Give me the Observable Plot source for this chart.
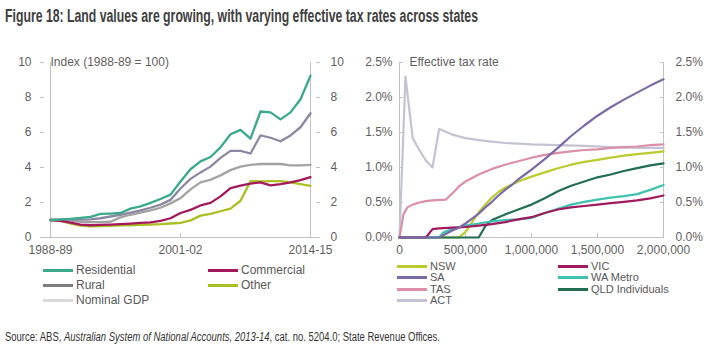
<!DOCTYPE html>
<html><head><meta charset="utf-8">
<script src="https://cdn.jsdelivr.net/npm/d3@7"></script>
<script src="https://cdn.jsdelivr.net/npm/@observablehq/plot@0.6"></script>
<style>
body{margin:0;background:#fff;width:712px;height:354px;position:relative;overflow:hidden;font-family:"Liberation Sans",Arial,sans-serif;}
#title{position:absolute;left:5px;top:7px;font-family:"Liberation Sans Narrow","Arial Narrow","Liberation Sans",sans-serif;font-weight:bold;font-size:18px;line-height:18px;color:#404040;white-space:nowrap;transform-origin:0 0;display:inline-block;}
#source{position:absolute;left:5px;top:331px;font-family:"Liberation Sans Narrow","Arial Narrow","Liberation Sans",sans-serif;font-size:12px;line-height:12px;color:#333;white-space:nowrap;transform-origin:0 0;display:inline-block;}
.panel{position:absolute;top:50px;}
.leg{position:absolute;white-space:nowrap;color:#595959;display:flex;align-items:center;}
.leg span.sw{display:inline-block;height:3px;margin-right:3px;}
</style>
</head><body>
<div id="title">Figure 18: Land values are growing, with varying effective tax rates across states</div>
<div id="left" class="panel" style="left:0px"></div>
<div id="right" class="panel" style="left:356px"></div>
<div id="legL"></div>
<div id="legR"></div>
<div id="source">Source: ABS, <i>Australian System of National Accounts, 2013-14</i>, cat. no. 5204.0; State Revenue Offices.</div>
<script>
// ---------- Left panel data ----------
const years = ["1988-89","1989-90","1990-91","1991-92","1992-93","1993-94","1994-95","1995-96","1996-97","1997-98","1998-99","1999-00","2000-01","2001-02","2002-03","2003-04","2004-05","2005-06","2006-07","2007-08","2008-09","2009-10","2010-11","2011-12","2012-13","2013-14","2014-15"];
const yearTicks = ["1988-89","2001-02","2014-15"];
const residential = [1.0,1.02,1.07,1.12,1.18,1.35,1.37,1.4,1.65,1.78,1.98,2.2,2.45,3.2,3.9,4.35,4.6,5.15,5.9,6.15,5.65,7.2,7.15,6.75,7.15,7.9,9.25];
const commercial  = [1.0,0.95,0.85,0.74,0.7,0.72,0.74,0.76,0.79,0.83,0.87,0.95,1.1,1.4,1.58,1.83,1.98,2.35,2.82,2.97,3.08,3.15,2.98,3.05,3.15,3.28,3.45];
const rural       = [1.0,1.03,1.05,1.02,1.03,1.1,1.2,1.3,1.42,1.55,1.7,1.88,2.15,2.8,3.35,3.72,4.05,4.55,4.95,4.95,4.8,5.83,5.7,5.5,5.83,6.3,7.1];
const other       = [1.0,0.95,0.8,0.68,0.63,0.65,0.67,0.69,0.7,0.72,0.74,0.76,0.8,0.84,0.98,1.25,1.35,1.5,1.65,2.1,3.22,3.2,3.22,3.22,3.15,3.05,2.95];
const nominalGDP  = [1.0,1.0,0.97,0.9,0.88,0.88,0.9,1.15,1.3,1.42,1.55,1.7,1.95,2.25,2.75,3.15,3.3,3.55,3.85,4.05,4.15,4.2,4.2,4.2,4.12,4.12,4.15];
const leftSeries = ["Nominal GDP","Rural","Other","Commercial","Residential"];
const leftValues = [nominalGDP, rural, other, commercial, residential];
const leftLineColors = ["#a3a3a3","#8c88a2","#a9bf22","#a3195b","#3aaa8c"];
const leftTicks = [0,2,4,6,8,10];
const leftLegend = [["Residential","#3aaa8c"],["Commercial","#a3195b"],["Rural","#7f7f7f"],["Other","#a9bf22"],["Nominal GDP","#d9d9d9"]];

// ---------- Right panel data (property value, effective rate %) ----------
const nsw = [[0,0],[450000,0],[500000,0.08],[550000,0.22],[600000,0.36],[650000,0.47],[700000,0.57],[750000,0.65],[800000,0.71],[900000,0.8],[1000000,0.87],[1100000,0.93],[1200000,0.99],[1300000,1.04],[1400000,1.08],[1500000,1.11],[1600000,1.14],[1700000,1.17],[1800000,1.19],[1900000,1.21],[2000000,1.23]];
const vic = [[0,0],[200000,0],[250000,0.12],[300000,0.13],[400000,0.14],[500000,0.15],[600000,0.17],[700000,0.19],[800000,0.22],[900000,0.26],[1000000,0.29],[1100000,0.35],[1200000,0.4],[1300000,0.43],[1400000,0.45],[1500000,0.47],[1600000,0.49],[1700000,0.51],[1800000,0.53],[1900000,0.56],[2000000,0.6]];
const sa  = [[0,0],[300000,0],[350000,0.05],[400000,0.1],[450000,0.14],[500000,0.2],[550000,0.27],[600000,0.34],[650000,0.43],[700000,0.51],[750000,0.6],[800000,0.68],[850000,0.75],[900000,0.83],[950000,0.9],[1000000,0.97],[1100000,1.12],[1200000,1.28],[1300000,1.45],[1400000,1.6],[1500000,1.74],[1600000,1.86],[1700000,1.97],[1800000,2.07],[1900000,2.17],[2000000,2.26]];
const waMetro = [[0,0],[300000,0],[330000,0.07],[400000,0.12],[500000,0.17],[600000,0.2],[700000,0.23],[800000,0.25],[900000,0.26],[1000000,0.28],[1100000,0.35],[1200000,0.41],[1300000,0.47],[1400000,0.51],[1500000,0.54],[1600000,0.57],[1700000,0.59],[1800000,0.62],[1900000,0.68],[2000000,0.75]];
const tas = [[0,0],[30000,0.33],[60000,0.43],[100000,0.47],[150000,0.5],[200000,0.52],[250000,0.53],[350000,0.54],[400000,0.63],[450000,0.73],[500000,0.8],[600000,0.9],[700000,0.98],[800000,1.04],[900000,1.09],[1000000,1.14],[1100000,1.18],[1200000,1.21],[1300000,1.23],[1400000,1.25],[1500000,1.26],[1600000,1.28],[1700000,1.29],[1800000,1.3],[1900000,1.32],[2000000,1.33]];
const qld = [[0,0],[600000,0],[650000,0.16],[700000,0.25],[800000,0.33],[900000,0.4],[1000000,0.47],[1100000,0.56],[1200000,0.66],[1300000,0.74],[1400000,0.8],[1500000,0.86],[1600000,0.9],[1700000,0.95],[1800000,0.99],[1900000,1.03],[2000000,1.06]];
const act = [[0,0],[45000,2.3],[100000,1.42],[150000,1.25],[200000,1.1],[250000,1.0],[300000,1.55],[400000,1.47],[500000,1.42],[600000,1.39],[700000,1.37],[800000,1.35],[900000,1.34],[1000000,1.33],[1200000,1.32],[1400000,1.31],[1600000,1.29],[1800000,1.28],[2000000,1.28]];
const rightSeries = ["ACT","TAS","NSW","QLD Individuals","WA Metro","VIC","SA"];
const rightValues = [act, tas, nsw, qld, waMetro, vic, sa];
const rightColors = ["#c4c3d3","#dc8fa8","#bccb2e","#236d52","#40c2b0","#a11a5d","#7a6aa8"];
const rightXTicks = [0,500000,1000000,1500000,2000000];
const rightYTicks = [0,0.5,1,1.5,2,2.5];
const rightLegend = [["NSW","#bccb2e"],["VIC","#a11a5d"],["SA","#7a6aa8"],["WA Metro","#40c2b0"],["TAS","#dc8fa8"],["QLD Individuals","#236d52"],["ACT","#c4c3d3"]];

const axisColor = "#c3c3c3";
const textColor = "#5f5f5f";
const font = "Liberation Sans, Arial, sans-serif";

// ---------- Left chart ----------
const leftData = leftSeries.flatMap((s, k) => years.map((y, i) => ({year: y, value: leftValues[k][i], series: s})));
const left = Plot.plot({
  width: 356, height: 210, marginTop: 12, marginBottom: 23, marginLeft: 40, marginRight: 37,
  style: {fontFamily: font, fontSize: "12px", color: textColor, background: "transparent"},
  x: {type: "point", domain: years, padding: 0},
  y: {domain: [0, 10]},
  color: {domain: leftSeries, range: leftLineColors},
  marks: [
    Plot.ruleX([years[0], years[years.length - 1]], {stroke: axisColor}),
    Plot.ruleY([0], {stroke: axisColor}),
    Plot.axisY({anchor: "left", ticks: leftTicks, tickSize: 0, tickPadding: 9, label: null, fill: textColor}),
    Plot.axisY({anchor: "left", ticks: leftTicks, tickSize: 4, dx: 4, fill: "none", stroke: axisColor, label: null}),
    Plot.axisY({anchor: "right", ticks: leftTicks, tickSize: 0, tickPadding: 11, label: null, fill: textColor}),
    Plot.axisY({anchor: "right", ticks: leftTicks, tickSize: 4, dx: -4, fill: "none", stroke: axisColor, label: null}),
    Plot.axisX({anchor: "bottom", ticks: yearTicks, tickSize: 0, tickPadding: 8, label: null, fill: textColor}),
    Plot.axisX({anchor: "bottom", ticks: yearTicks, tickSize: 4, dy: -4, fill: "none", stroke: axisColor, label: null}),
    Plot.line(leftData, {x: "year", y: "value", z: "series", stroke: "series", strokeWidth: 2.3}),
    Plot.text(["Index (1988-89 = 100)"], {frameAnchor: "top-left", dx: 10, textAnchor: "start", lineAnchor: "middle", fill: textColor, fontSize: 12})
  ]
});
document.getElementById("left").append(left);

// ---------- Right chart ----------
const rightData = rightSeries.flatMap((s, k) => rightValues[k].map(([v, r]) => ({value: v, rate: r, series: s})));
const right = Plot.plot({
  width: 356, height: 210, marginTop: 12, marginBottom: 23, marginLeft: 43, marginRight: 49,
  style: {fontFamily: font, fontSize: "12px", color: textColor, background: "transparent"},
  x: {domain: [0, 2000000]},
  y: {domain: [0, 2.5]},
  color: {domain: rightSeries, range: rightColors},
  marks: [
    Plot.ruleX([0, 2000000], {stroke: axisColor}),
    Plot.ruleY([0], {stroke: axisColor}),
    Plot.axisY({anchor: "left", ticks: rightYTicks, tickFormat: d => d.toFixed(1) + "%", tickSize: 0, tickPadding: 7, label: null, fill: textColor}),
    Plot.axisY({anchor: "left", ticks: rightYTicks, tickSize: 4, dx: 4, fill: "none", stroke: axisColor, label: null}),
    Plot.axisY({anchor: "right", ticks: rightYTicks, tickFormat: d => d.toFixed(1) + "%", tickSize: 0, tickPadding: 12, label: null, fill: textColor}),
    Plot.axisY({anchor: "right", ticks: rightYTicks, tickSize: 4, dx: -4, fill: "none", stroke: axisColor, label: null}),
    Plot.axisX({anchor: "bottom", ticks: rightXTicks, tickFormat: d3.format(","), tickSize: 0, tickPadding: 8, label: null, fill: textColor}),
    Plot.axisX({anchor: "bottom", ticks: rightXTicks, tickSize: 4, dy: -4, fill: "none", stroke: axisColor, label: null}),
    Plot.line(rightData, {x: "value", y: "rate", z: "series", stroke: "series", strokeWidth: 2.2}),
    Plot.text(["Effective tax rate"], {frameAnchor: "top-left", dx: 10, textAnchor: "start", lineAnchor: "middle", fill: textColor, fontSize: 12})
  ]
});
document.getElementById("right").append(right);

// ---------- Legends ----------
function legend(containerId, items, cols, opts) {
  const c = document.getElementById(containerId);
  items.forEach(([name, color], i) => {
    const row = Math.floor(i / 2), col = i % 2;
    const d = document.createElement("div");
    d.className = "leg";
    d.style.left = cols[col] + "px";
    d.style.top = (opts.top + row * opts.step - opts.fs / 2 - 1) + "px";
    d.style.fontSize = opts.fs + "px";
    d.style.lineHeight = (opts.fs + 2) + "px";
    d.innerHTML = `<span class="sw" style="width:${opts.sw}px;background:${color}"></span>${name}`;
    c.append(d);
  });
}
legend("legL", leftLegend, [43, 208], {top: 270, step: 15, fs: 12, sw: 30});
legend("legR", rightLegend, [397, 558], {top: 266, step: 11.5, fs: 11, sw: 30});

// fit text widths
function fit(id, w) { const el = document.getElementById(id); el.style.transform = `scaleX(${w / el.getBoundingClientRect().width})`; }
fit("title", 473);
fit("source", 435);
</script>
</body></html>
